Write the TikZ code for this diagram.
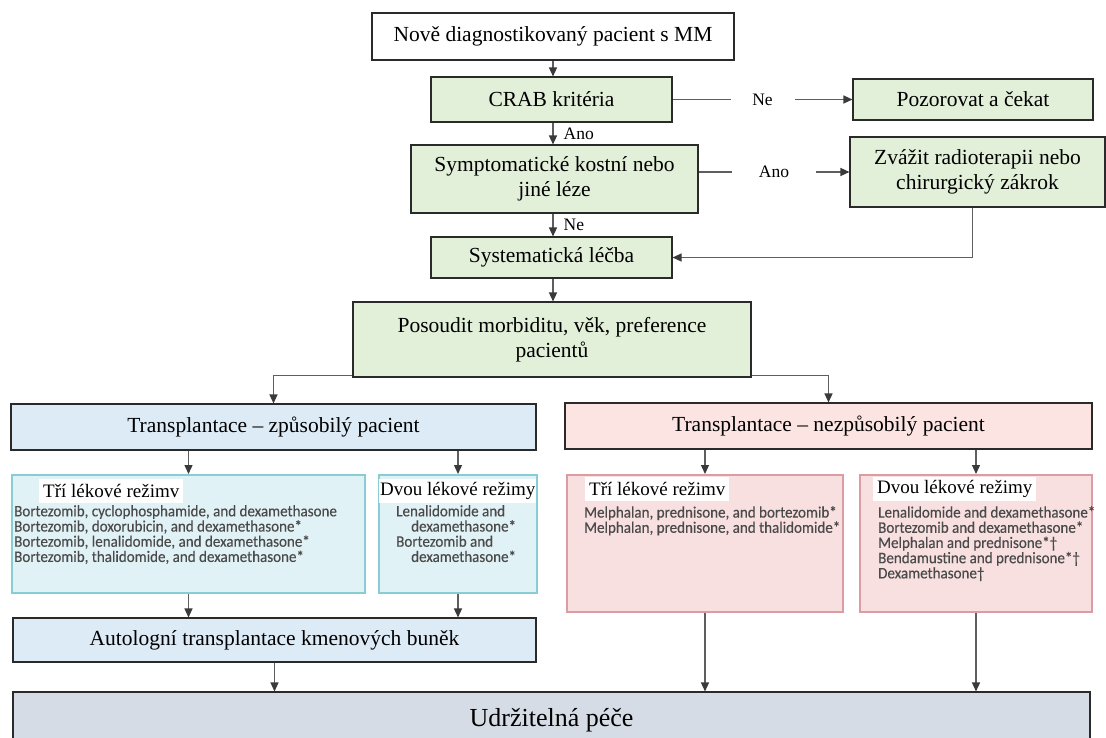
\documentclass[tikz,border=0pt]{standalone}
\usepackage{fontspec}
\setmainfont{Liberation Serif}
\newfontfamily\drugfont[FakeStretch=0.94,FakeBold=0.3]{Carlito}
\usetikzlibrary{arrows.meta,calc}
\definecolor{gfill}{HTML}{E2EFD9}
\definecolor{bfill}{HTML}{DDEBF7}
\definecolor{pfill}{HTML}{FBE4E2}
\definecolor{rbfill}{HTML}{E1F2F6}
\definecolor{rbdraw}{HTML}{88CDD4}
\definecolor{rpfill}{HTML}{F8DFE0}
\definecolor{rpdraw}{HTML}{DA9DA4}
\definecolor{ufill}{HTML}{D6DCE5}
\definecolor{bord}{HTML}{2A2A2A}
\definecolor{linec}{HTML}{5E5E5E}
\definecolor{tipc}{HTML}{3A3A3A}
\definecolor{drugc}{HTML}{4A4A4A}
\newcommand\mainsz{\fontsize{21.5}{25}\selectfont}
\newcommand\lblsz{\fontsize{17.5}{20}\selectfont}
\newcommand\headsz{\fontsize{19}{22}\selectfont}
\newcommand\drugsz{\drugfont\fontsize{16}{15.2}\selectfont}
\begin{document}
\begin{tikzpicture}[x=1pt,y=-1pt,
  box/.style={draw=bord, line width=1.1pt, inner sep=0pt, align=center, font=\mainsz},
  gbox/.style={box, fill=gfill},
  bbox/.style={box, fill=bfill},
  pbox/.style={box, fill=pfill},
  rbbox/.style={draw=rbdraw, line width=2pt, fill=rbfill, inner sep=0pt},
  rpbox/.style={draw=rpdraw, line width=2pt, fill=rpfill, inner sep=0pt},
  arr/.style={draw=linec, line width=1.3pt, -{Triangle[width=8pt,length=9pt,color=tipc]}},
  gaplbl/.style={fill=white, inner sep=0pt, font=\lblsz, minimum height=20pt},
  sidelbl/.style={inner sep=0pt, font=\lblsz, anchor=west},
  head/.style={fill=white, inner xsep=4pt, inner ysep=0pt, minimum height=24pt, anchor=west, font=\headsz},
  drug/.style={inner sep=0pt, anchor=north west, align=left, font=\drugsz, text=drugc}]
\clip (0,0) rectangle (1106,737);
\fill[white] (0,0) rectangle (1106,737);

% top column
\node[box, fill=white, minimum width=362pt, minimum height=47pt] (new) at (553,36.5) {Nově diagnostikovaný pacient s MM};
\node[gbox, minimum width=241pt, minimum height=45pt] (crab) at (551.5,99.5) {CRAB kritéria};
\node[gbox, minimum width=240pt, minimum height=41pt] (wait) at (973,99.5) {Pozorovat a čekat};
\node[gbox, minimum width=287pt, minimum height=68pt] (sympt) at (554.5,179) {Symptomatické kostní nebo\\jiné léze};
\node[gbox, minimum width=255pt, minimum height=70pt] (radio) at (977.5,172) {Zvážit radioterapii nebo\\chirurgický zákrok};
\node[gbox, minimum width=241pt, minimum height=41pt] (syst) at (551.5,257.5) {Systematická léčba};
\node[gbox, minimum width=398pt, minimum height=75pt] (assess) at (552,339.5) {Posoudit morbiditu, věk, preference\\pacientů};

% eligibility
\node[bbox, minimum width=525pt, minimum height=46pt] (elig) at (273.5,427) {Transplantace – způsobilý pacient};
\node[pbox, minimum width=527pt, minimum height=46pt] (inel) at (828.5,426) {Transplantace – nezpůsobilý pacient};

% regimen boxes
\node[rbbox, minimum width=353pt, minimum height=118pt] (tri1) at (188.5,534) {};
\node[rbbox, minimum width=158pt, minimum height=118pt] (dvou1) at (458,534) {};
\node[rpbox, minimum width=276pt, minimum height=137pt] (tri2) at (705,543.5) {};
\node[rpbox, minimum width=232pt, minimum height=137pt] (dvou2) at (976,543.5) {};

\node[head] (h1) at (39,491) {Tří lékové režimv};
\node[head, inner xsep=1pt] (h2) at (379,491) {Dvou lékové režimy};
\node[head] (h3) at (585,489) {Tří lékové režimv};
\node[head] (h4) at (873,489) {Dvou lékové režimy};

\node[drug] (d1) at (14,505) {Bortezomib, cyclophosphamide, and dexamethasone\\Bortezomib, doxorubicin, and dexamethasone*\\Bortezomib, lenalidomide, and dexamethasone*\\Bortezomib, thalidomide, and dexamethasone*};
\node[drug] (d2) at (396,505) {Lenalidomide and\\\hspace*{15pt}dexamethasone*\\Bortezomib and\\\hspace*{15pt}dexamethasone*};
\node[drug] (d3) at (584,506) {Melphalan, prednisone, and bortezomib*\\Melphalan, prednisone, and thalidomide*};
\node[drug] (d4) at (878,506) {Lenalidomide and dexamethasone*\\Bortezomib and dexamethasone*\\Melphalan and prednisone*†\\Bendamustine and prednisone*†\\Dexamethasone†};

% bottom
\node[bbox, minimum width=523pt, minimum height=44pt] (auto) at (274.5,640) {Autologní transplantace kmenových buněk};
\node[box, fill=ufill, minimum width=1077pt, minimum height=56pt, font=\fontsize{26}{30}\selectfont] (udr) at (551.5,720) {Udržitelná péče};

% connectors
\draw[arr] (new.south) -- (new.south |- crab.north);
\draw[arr] (crab.east) -- node[gaplbl, minimum width=64pt] (ne1) {Ne} (wait.west);
\draw[arr] (crab.south -| new.south) -- node[sidelbl, xshift=10pt] (ano1) {Ano} (sympt.north -| new.south);
\draw[arr] (sympt.east |- radio.west) -- node[gaplbl, minimum width=84pt] (ano2) {Ano} (radio.west);
\draw[arr] (sympt.south -| new.south) -- node[sidelbl, xshift=10pt] (ne2) {Ne} (syst.north -| new.south);
\draw[arr] ([xshift=-5pt]radio.south) |- (syst.east);
\draw[arr] (syst.south -| new.south) -- (assess.north -| new.south);
\draw[arr] ([yshift=2pt]assess.south west) -| (elig.north);
\draw[arr] ([yshift=2pt]assess.south east) -| (inel.north);
\draw[arr] (elig.south -| tri1.north) -- (tri1.north);
\draw[arr] (elig.south -| dvou1.north) -- (dvou1.north);
\draw[arr] (inel.south -| tri2.north) -- (tri2.north);
\draw[arr] (inel.south -| dvou2.north) -- (dvou2.north);
\draw[arr] (tri1.south) -- (tri1.south |- auto.north);
\draw[arr] (dvou1.south) -- (dvou1.south |- auto.north);
\draw[arr] (auto.south) -- (auto.south |- udr.north);
\draw[arr] (tri2.south) -- (tri2.south |- udr.north);
\draw[arr] (dvou2.south) -- (dvou2.south |- udr.north);
\end{tikzpicture}
\end{document}
